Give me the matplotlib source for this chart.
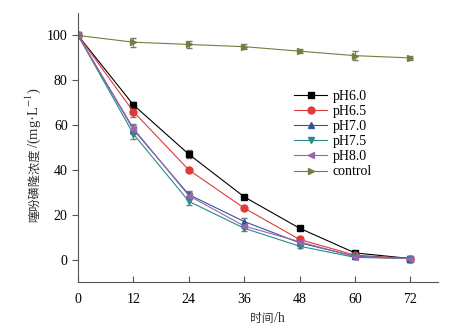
import matplotlib
matplotlib.use('Agg')
import matplotlib.pyplot as plt

plt.rcParams['font.family'] = ['Liberation Serif', 'Noto Sans CJK SC']
plt.rcParams['font.size'] = 10
plt.rcParams['mathtext.fontset'] = 'stix'

hours = [0, 12, 24, 36, 48, 60, 72]

ph60 = [100, 69, 47, 28, 14, 3, 0.5]
ph65 = [100, 66, 40, 23, 9, 2, 0.5]
ph70 = [100, 58, 29, 17, 7.5, 1.5, 0.5]
ph75 = [100, 56, 26, 14, 6, 1, 0.5]
ph80 = [100, 58.5, 28.5, 15, 8, 1.3, 0.5]
control = [100, 97, 96, 95, 93, 91, 90]

err60 = [0, 1.5, 1.8, 1, 0.8, 0.5, 0.3]
err65 = [0, 2.5, 1, 1, 0.8, 0.5, 0.3]
err70 = [0, 2, 1.5, 1.5, 1, 0.5, 0.3]
err75 = [0, 2, 1.5, 1, 1, 0.5, 0.3]
err80 = [0, 2, 1.5, 1, 1, 0.5, 0.3]
err_ctrl = [0, 2, 1.5, 1, 1, 2, 1]

series = [
    ('pH6.0', ph60, err60, 'black', 's'),
    ('pH6.5', ph65, err65, '#e03a3a', 'o'),
    ('pH7.0', ph70, err70, '#2f5597', '^'),
    ('pH7.5', ph75, err75, '#2a8a84', 'v'),
    ('pH8.0', ph80, err80, '#9b63b0', '<'),
    ('control', control, err_ctrl, '#7b7b3f', '>'),
]

xlabel_parts = [('时间', 8.5), ('/h', 10)]
ylabel_parts = [('噻吩磺隆浓度', 8.8), ('/(mg·L$^{-1}$)', 10.5)]

W, H = 454, 335
fig = plt.figure(figsize=(W / 100, H / 100), dpi=100)
ax = fig.add_axes([0.172, 0.158, 0.793, 0.803])

handles = []
for label, values, errs, color, marker in series:
    cont = ax.errorbar(hours, values, yerr=errs, color=color, marker=marker,
                       markersize=5, linewidth=0.8, capsize=2, elinewidth=0.8,
                       ecolor='#777777', label=label)
    handles.append(cont[0])

ax.set_xlim(0, 78)
ax.set_ylim(-10, 110)
ax.set_xticks(hours)
ax.set_yticks([0, 20, 40, 60, 80, 100])
ax.tick_params(axis='x', direction='in', length=4, color='#555555', pad=8)
ax.tick_params(axis='y', direction='out', length=4, color='#555555')
for side in ('top', 'right'):
    ax.spines[side].set_visible(False)
for side in ('left', 'bottom'):
    ax.spines[side].set_color('#555555')

ax.legend(handles, [s[0] for s in series], loc='upper left',
          bbox_to_anchor=(0.58, 0.74), frameon=False,
          handlelength=2.4, handletextpad=0.4, labelspacing=0.15,
          borderpad=0)


def chain_text(parts, x0, y0, rotation):
    '''Place text pieces of mixed size one after another (pixel coords).'''
    renderer = fig.canvas.get_renderer()
    x, y = x0, y0
    for text, size in parts:
        t = fig.text(x / W, y / H, text, size=size, rotation=rotation,
                     rotation_mode='anchor', ha='left', va='baseline',
                     color='#333333')
        ext = t.get_window_extent(renderer)
        if rotation == 90:
            y += ext.height
        else:
            x += ext.width


chain_text(xlabel_parts, 250, 13, 0)
chain_text(ylabel_parts, 38, 113, 90)

fig.savefig('out.png', dpi=100)
